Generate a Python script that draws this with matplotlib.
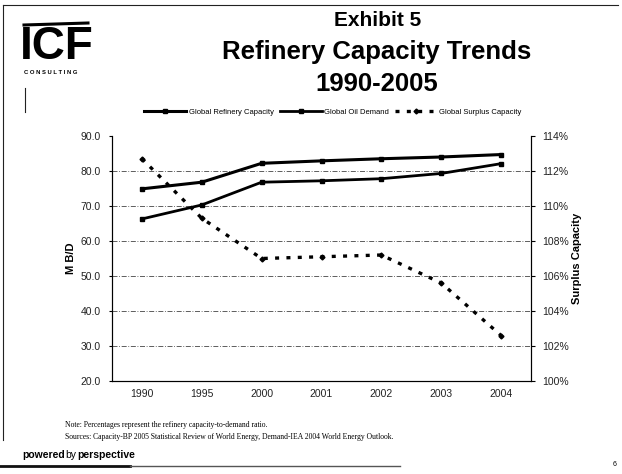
import numpy as np
import matplotlib.pyplot as plt
from matplotlib.lines import Line2D

years = ["1990", "1995", "2000", "2001", "2002", "2003", "2004"]
refinery_capacity = [74.9, 76.8, 82.2, 82.9, 83.5, 84.0, 84.7]
oil_demand = [66.3, 70.3, 76.8, 77.2, 77.8, 79.3, 82.1]
surplus_capacity = [112.7, 109.3, 107.0, 107.1, 107.2, 105.6, 102.6]

left_ticks = [20, 30, 40, 50, 60, 70, 80, 90]
right_ticks = [100, 102, 104, 106, 108, 110, 112, 114]

plt.rcParams["font.family"] = ["Liberation Sans", "DejaVu Sans"]

fig = plt.figure(figsize=(6.22, 4.74), dpi=100)
W, H = 622, 474


def fx(x):
    return x / W


def fy(y):
    return 1 - y / H


# slide frame
fig.add_artist(Line2D([fx(3), fx(3)], [fy(5), fy(440)], color="#222", lw=0.8))
fig.add_artist(Line2D([fx(3), fx(618)], [fy(5), fy(5)], color="#222", lw=0.8))
fig.add_artist(Line2D([fx(0), fx(130)], [fy(466), fy(466)], color="#111", lw=2.0))
fig.add_artist(Line2D([fx(130), fx(400)], [fy(466), fy(466)], color="#555", lw=1.0))

# logo
fig.add_artist(Line2D([fx(24), fx(88)], [fy(25), fy(23)], color="black", lw=2.2))
fig.text(fx(20), fy(47), "ICF", fontsize=33, fontweight="bold", va="center",
         ha="left", family=["Liberation Sans"])
fig.text(fx(24), fy(72), "C O N S U L T I N G", fontsize=4.2, fontweight="bold",
         va="center", ha="left")
fig.add_artist(Line2D([fx(25), fx(25)], [fy(88), fy(112)], color="#222", lw=0.8))

# titles
fig.text(fx(378), fy(20), "Exhibit 5", fontsize=15, fontweight="bold", ha="center", va="center")
fig.text(fx(377), fy(52), "Refinery Capacity Trends", fontsize=18.5, fontweight="bold",
         ha="center", va="center")
fig.text(fx(377), fy(84), "1990-2005", fontsize=18.5, fontweight="bold", ha="center", va="center")

ax = fig.add_axes([fx(112), fy(381), fx(531) - fx(112), fy(136) - fy(381)])
x = np.arange(len(years))

for v in left_ticks[1:-1]:
    ax.axhline(v, color="#444", lw=0.6, ls=(0, (6, 2, 1, 2)), zorder=1)

l1, = ax.plot(x, refinery_capacity, color="black", lw=2.2, marker="s", ms=3, zorder=3)
l2, = ax.plot(x, oil_demand, color="black", lw=2.0, marker="s", ms=3, zorder=3)

ax.set_xlim(-0.5, len(years) - 0.5)
ax.set_ylim(20, 90)
ax.set_yticks(left_ticks)
ax.set_yticklabels([f"{v:.1f}" for v in left_ticks], fontsize=7.5, color="#222")
ax.set_xticks(x)
ax.set_xticklabels(years, fontsize=7.5, color="#222")
ax.tick_params(axis="x", length=0, pad=6)
ax.tick_params(axis="y", length=2, pad=6)
ax.set_ylabel("M B/D", fontsize=8, fontweight="bold", labelpad=3)
ax.spines["top"].set_visible(False)
for s in ["left", "bottom", "right"]:
    ax.spines[s].set_linewidth(0.8)
    ax.spines[s].set_color("#222")

ax2 = ax.twinx()
l3, = ax2.plot(x, surplus_capacity, color="black", lw=2.4, ls=(0, (1.2, 2.2)),
               marker="D", ms=2.5, zorder=3)
ax2.set_ylim(100, 114)
ax2.set_yticks(right_ticks)
ax2.set_yticklabels([f"{v}%" for v in right_ticks], fontsize=7.5, color="#222")
ax2.tick_params(axis="y", length=3, pad=5)
ax2.set_ylabel("Surplus Capacity", fontsize=8, fontweight="bold", labelpad=2)
ax2.spines["top"].set_visible(False)
ax2.spines["right"].set_linewidth(0.8)

fig.legend([l1, l2, l3], ["Global Refinery Capacity", "Global Oil Demand", "Global Surplus Capacity"],
           loc="center", bbox_to_anchor=(fx(333), fy(112)), ncol=3, frameon=False,
           fontsize=5.5, handlelength=5.5, columnspacing=0.8, handletextpad=0.3)

# footnotes
fig.text(fx(65), fy(425), "Note: Percentages represent the refinery capacity-to-demand ratio.",
         fontsize=5.5, family=["Liberation Serif"], va="center")
fig.text(fx(65), fy(437), "Sources: Capacity-BP 2005 Statistical Review of World Energy, "
         "Demand-IEA 2004 World Energy Outlook.", fontsize=5.5, family=["Liberation Serif"], va="center")

fig.text(fx(22), fy(455), "powered", fontsize=7.5, fontweight="bold", va="center", ha="left")
fig.text(fx(65.5), fy(455), "by", fontsize=7.5, va="center", ha="left")
fig.text(fx(77), fy(455), "perspective", fontsize=7.5, fontweight="bold", va="center", ha="left")
fig.text(fx(615), fy(465), "6", fontsize=5, va="center", ha="center")

fig.savefig("out.png", dpi=100)
